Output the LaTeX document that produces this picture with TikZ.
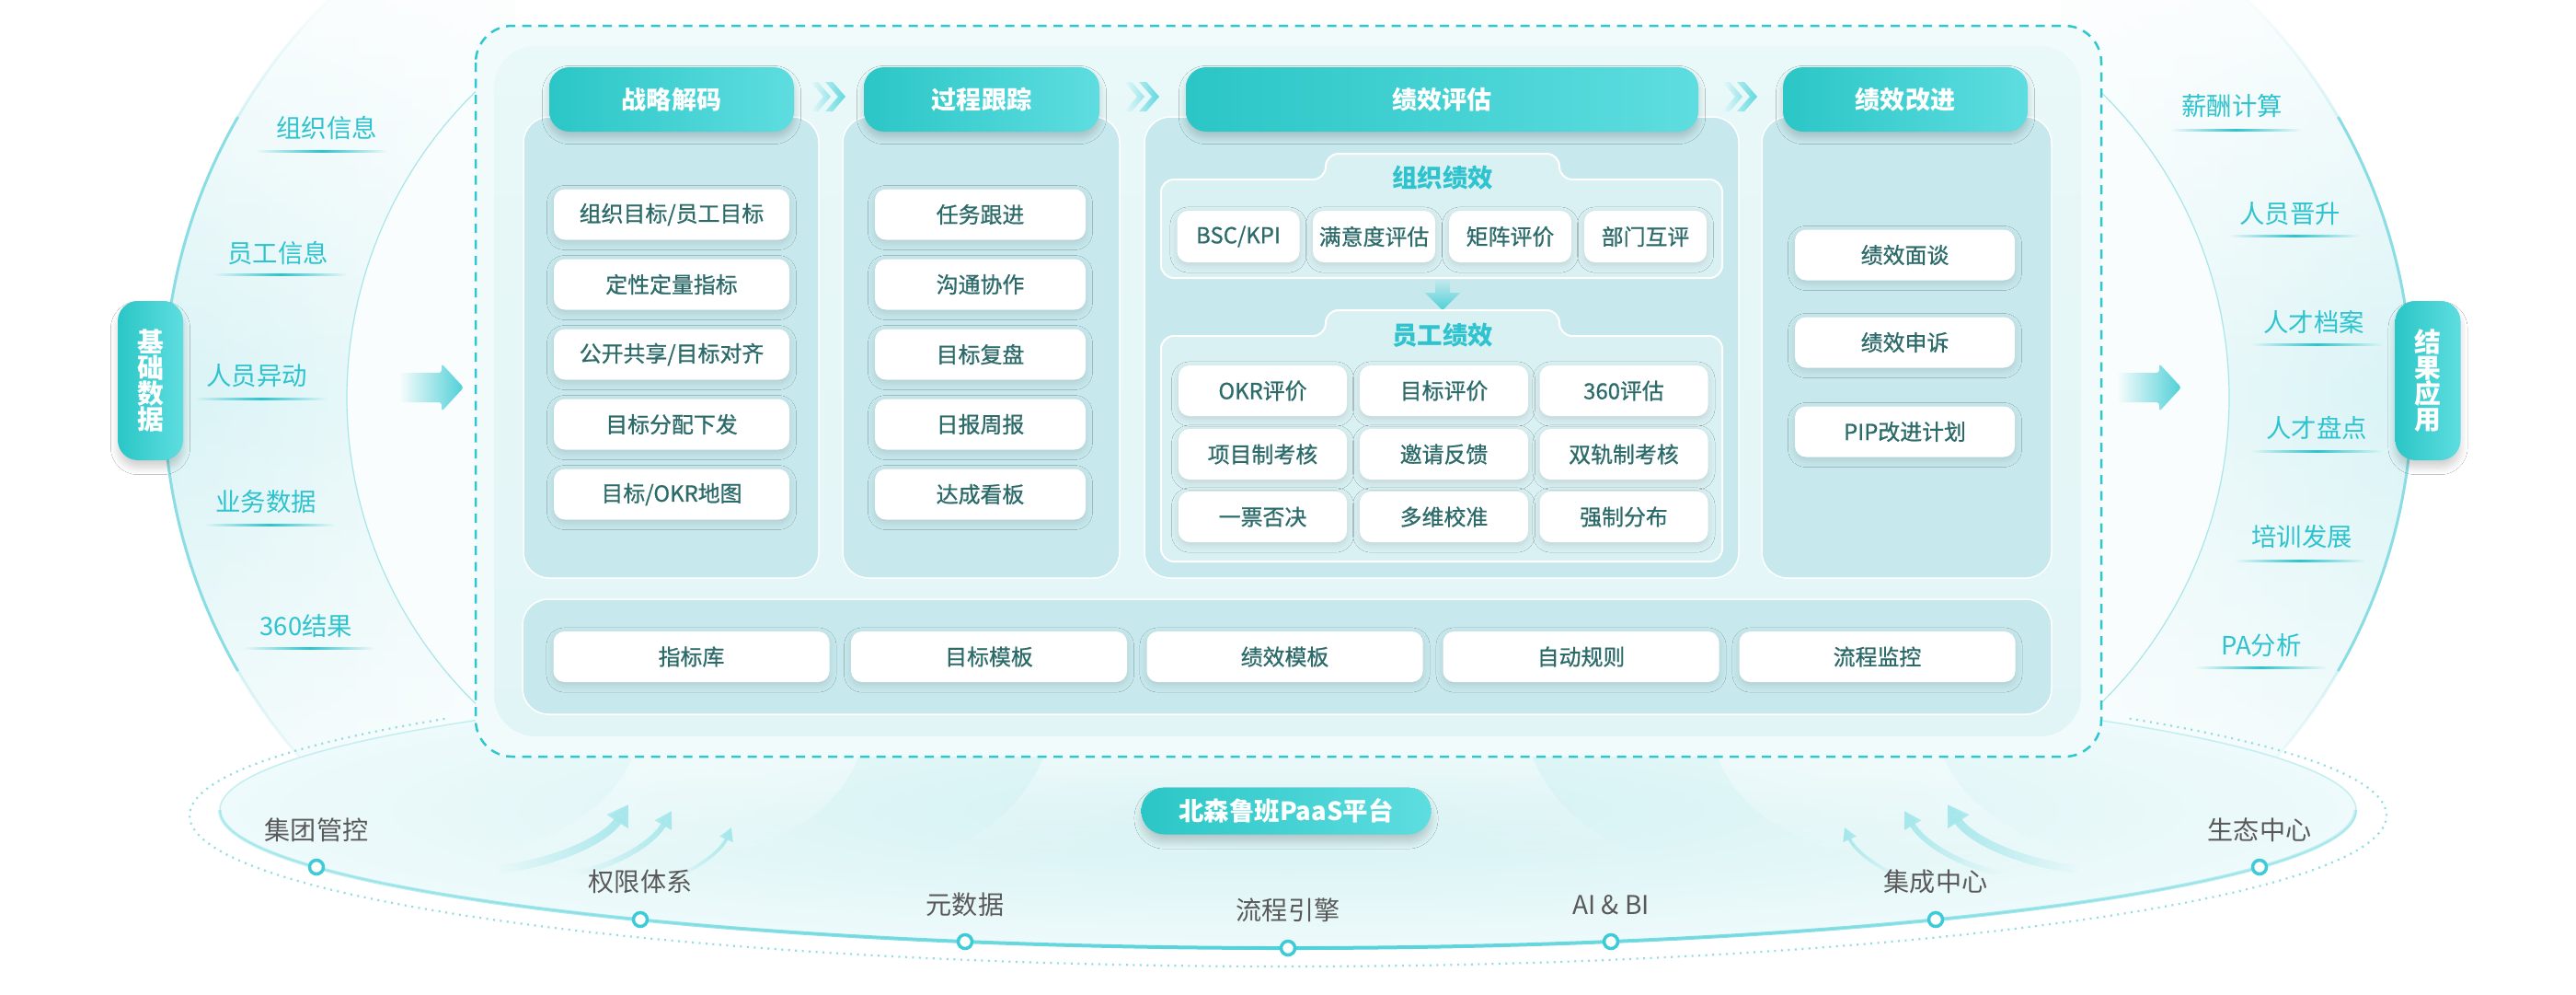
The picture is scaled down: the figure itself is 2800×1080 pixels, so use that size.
\documentclass[tikz,border=0pt]{standalone}
\usepackage{fontspec}
\setmainfont{Noto Sans CJK SC}
\newfontfamily\medfont{Noto Sans CJK SC}[FakeBold=0.8]
\usetikzlibrary{fadings,shadows.blur,arrows.meta}
\definecolor{dashC}{HTML}{2EC6CF}
\definecolor{frameFill}{HTML}{F2FBFC}
\definecolor{innerTop}{HTML}{E9F8F9}
\definecolor{innerBot}{HTML}{E2F5F6}
\definecolor{panelC}{HTML}{C7E9ED}
\definecolor{grpC}{HTML}{DAF1F3}
\definecolor{itemTxt}{HTML}{2D6B6B}
\definecolor{hdrL}{HTML}{2BC6C6}
\definecolor{hdrR}{HTML}{5EDDE0}
\definecolor{labTeal}{HTML}{2EC3CE}
\definecolor{botTxt}{HTML}{595959}
\definecolor{dotTeal}{HTML}{3DCCD6}
\definecolor{crescL}{HTML}{D8F3F5}
\definecolor{crescR}{HTML}{F2FBFC}
\definecolor{innerW}{HTML}{F9FDFD}
\definecolor{arcC}{HTML}{8ADDE3}
\definecolor{arcIn}{HTML}{A8E6EA}
\definecolor{ellIn}{HTML}{D2F1F2}
\definecolor{ellOut}{HTML}{EEFAFB}
\definecolor{ellLine}{HTML}{4FD1D9}
\definecolor{dotLine}{HTML}{8FDDE3}
\definecolor{arrowC}{HTML}{4FD0D8}
\definecolor{chevC}{HTML}{5FD9E0}
\definecolor{decoC}{HTML}{A6E7EB}
\tikzfading[name=fadeLR, left color=transparent!100, right color=transparent!100, middle color=transparent!0]
\tikzfading[name=fadeLRsoft, left color=transparent!75, right color=transparent!75, middle color=transparent!0]
\tikzfading[name=fadeIn, left color=transparent!100, right color=transparent!0]
\tikzfading[name=fadeInR, left color=transparent!0, right color=transparent!100]
\tikzfading[name=fUp, top color=transparent!100, bottom color=transparent!0]
\tikzfading[name=fDown, top color=transparent!0, bottom color=transparent!100]
\tikzfading[name=fadeCres, top color=transparent!85, bottom color=transparent!70, middle color=transparent!0]
\newcommand\fItem{\medfont\fontsize{6.8pt}{8pt}\selectfont}
\newcommand\fHdr{\fontsize{7.7pt}{9pt}\selectfont\bfseries}
\newcommand\fGrp{\fontsize{7.8pt}{9pt}\selectfont\bfseries}
\newcommand\fSide{\fontsize{7.8pt}{9pt}\selectfont}
\newcommand\fBot{\fontsize{8pt}{9pt}\selectfont}
\newcommand\fPill{\fontsize{8.2pt}{8pt}\selectfont\bfseries}
\newcommand\fPaas{\fontsize{7.8pt}{9pt}\selectfont\bfseries}
\newcommand\mychev[2]{%
  \fill[chevC, path fading=fadeIn]
    (#1-20,#2-16) -- (#1-12,#2-16) -- (#1+2,#2) -- (#1-12,#2+16) -- (#1-20,#2+16) -- (#1-6,#2) -- cycle
    (#1-4,#2-16) -- (#1+4,#2-16) -- (#1+18,#2) -- (#1+4,#2+16) -- (#1-4,#2+16) -- (#1+10,#2) -- cycle;}
\tikzset{
  itembox/.style={fill=white, rounded corners=1.2mm, text=itemTxt, font=\fItem, inner sep=0pt,
    minimum height=5.5mm,
    blur shadow={shadow xshift=0pt, shadow yshift=-0.35mm, shadow opacity=12, shadow blur steps=6}},
  hdrbox/.style={rounded corners=2.2mm, left color=hdrL, right color=hdrR, text=white, font=\fHdr,
    inner sep=0pt, minimum height=7mm,
    blur shadow={shadow xshift=0pt, shadow yshift=-0.6mm, shadow opacity=18, shadow blur steps=8}},
  panelbox/.style={fill=panelC, draw=white, line width=0.15mm, rounded corners=2.8mm},
  grpbox/.style={fill=grpC, draw=white, line width=0.2mm, rounded corners=1.4mm},
  grplab/.style={text=labTeal, font=\fGrp, inner sep=0pt},
  pillv/.style={rounded corners=2.2mm, left color=hdrL, right color=hdrR, text=white, font=\fPill,
    align=center, inner sep=0pt, minimum width=7.1mm, minimum height=17.3mm,
    blur shadow={shadow xshift=0pt, shadow yshift=-0.8mm, shadow opacity=18, shadow blur steps=8}},
  sidelab/.style={text=labTeal, font=\fSide, inner sep=0pt},
  botlab/.style={text=botTxt, font=\fBot, inner sep=0pt},
  dotc/.style={circle, draw=dotTeal, line width=0.35mm, fill=white, minimum size=1.5mm, inner sep=0pt},
  uline/.style={fill=labTeal, path fading=fadeLR},
  bigarrow/.style={fill=arrowC, rounded corners=0.3mm},
  decoarrow/.style={draw=decoC, line cap=round},
  beam/.style={fill=white, fill opacity=0.45, path fading=fDown},
}
\begin{document}
\begin{tikzpicture}[x=0.1mm,y=-0.1mm]
\useasboundingbox (0,0) rectangle (2800,1080);
\fill[white] (0,0) rectangle (2800,1080);
\clip (0,0) rectangle (2800,1080);

% ---------- left crescent ----------
\begin{scope}
  \clip (0,0) rectangle (560,850);
  \begin{scope}
    \clip (780,428) circle (602);
    \shade[left color=crescL, right color=crescR, path fading=fadeCres] (170,-10) rectangle (560,860);
  \end{scope}
  \fill[innerW] (842,432) circle (465);
\end{scope}
\draw[arcC, line width=0.3mm] (780,428) ++(150:602) arc[start angle=150, end angle=210, radius=602];
\draw[arcC, line width=0.3mm, path fading=fUp] (780,428) ++(210:602) arc[start angle=210, end angle=226, radius=602];
\draw[arcC, line width=0.3mm, path fading=fDown] (780,428) ++(134:602) arc[start angle=134, end angle=150, radius=602];
\draw[arcIn, line width=0.12mm] (842,432) ++(134:465) arc[start angle=134, end angle=226, radius=465];

% ---------- right crescent ----------
\begin{scope}
  \clip (2240,0) rectangle (2800,850);
  \begin{scope}
    \clip (2020,428) circle (602);
    \shade[left color=crescR, right color=crescL, path fading=fadeCres] (2240,-10) rectangle (2630,860);
  \end{scope}
  \fill[innerW] (1958,432) circle (465);
\end{scope}
\draw[arcC, line width=0.3mm] (2020,428) ++(-30:602) arc[start angle=-30, end angle=30, radius=602];
\draw[arcC, line width=0.3mm, path fading=fUp] (2020,428) ++(-46:602) arc[start angle=-46, end angle=-30, radius=602];
\draw[arcC, line width=0.3mm, path fading=fDown] (2020,428) ++(30:602) arc[start angle=30, end angle=46, radius=602];
\draw[arcIn, line width=0.12mm] (1958,432) ++(-46:465) arc[start angle=-46, end angle=46, radius=465];

% ---------- bottom platform ellipse ----------
\fill[inner color=ellIn, outer color=ellOut] (1400,880) ellipse [x radius=1161, y radius=150];
\draw[ellLine!35, line width=0.15mm] (1400,880) ellipse [x radius=1161, y radius=150];
\draw[ellLine, line width=0.4mm, path fading=fadeLRsoft] (1400,880) ++(0:1161 and 150)
  arc[start angle=0, end angle=180, x radius=1161, y radius=150];
\draw[dotLine, line width=0.22mm, dash pattern=on 0.2mm off 0.55mm] (1400,886) ++(-40:1194 and 164)
  arc[start angle=-40, end angle=220, x radius=1194, y radius=164];

% light beams below the frame
\fill[beam] (688,822) -- (933,822) .. controls (915,870) and (870,905) .. (800,925)
  .. controls (700,945) and (560,950) .. (480,945) .. controls (590,925) and (665,880) .. (688,822) -- cycle;
\fill[beam] (2112,822) -- (1867,822) .. controls (1885,870) and (1930,905) .. (2000,925)
  .. controls (2100,945) and (2240,950) .. (2320,945) .. controls (2210,925) and (2135,880) .. (2112,822) -- cycle;
\fill[beam] (1135,822) .. controls (1110,880) and (1060,920) .. (990,935) -- (1810,935)
  .. controls (1740,920) and (1690,880) .. (1665,822) -- cycle;

% decorative rising arrows
\draw[decoarrow, line width=0.9mm, -{Triangle[width=2.6mm,length=2.2mm]}, path fading=fadeIn]
  (545,944) .. controls (610,936) and (660,910) .. (683,874);
\draw[decoarrow, line width=0.6mm, -{Triangle[width=2mm,length=1.8mm]}, path fading=fadeIn]
  (630,948) .. controls (680,936) and (712,912) .. (730,881);
\draw[decoarrow, line width=0.35mm, -{Triangle[width=1.5mm,length=1.4mm]}, path fading=fadeIn]
  (735,952) .. controls (765,940) and (785,922) .. (795,899);
\draw[decoarrow, line width=0.9mm, -{Triangle[width=2.6mm,length=2.2mm]}, path fading=fadeInR]
  (2255,944) .. controls (2190,936) and (2140,910) .. (2117,874);
\draw[decoarrow, line width=0.6mm, -{Triangle[width=2mm,length=1.8mm]}, path fading=fadeInR]
  (2170,948) .. controls (2120,936) and (2088,912) .. (2070,881);
\draw[decoarrow, line width=0.35mm, -{Triangle[width=1.5mm,length=1.4mm]}, path fading=fadeInR]
  (2065,952) .. controls (2035,940) and (2015,922) .. (2005,899);

% ---------- main frame ----------
\draw[draw=dashC, line width=0.25mm, dash pattern=on 1mm off 0.75mm, fill=frameFill, rounded corners=4mm]
  (517,28) rectangle (2284,822);
\shade[top color=innerTop, bottom color=innerBot, rounded corners=4.5mm] (537,50) rectangle (2262,800);

% column panels
\draw[panelbox] (569,127) rectangle (890,628);
\draw[panelbox] (916,127) rectangle (1217,628);
\draw[panelbox] (1244,127) rectangle (1890,628);
\draw[panelbox] (1915,127) rectangle (2230,628);
\draw[panelbox] (568,651) rectangle (2230,776);

% headers
\node[hdrbox, minimum width=26.6mm] (h1) at (730,108) {战略解码};
\node[hdrbox, minimum width=25.6mm] (h2) at (1067,108) {过程跟踪};
\node[hdrbox, minimum width=55.7mm] (h3) at (1567.5,108) {绩效评估};
\node[hdrbox, minimum width=26.6mm] (h4) at (2071,108) {绩效改进};
\mychev{901}{105}
\mychev{1242}{105}
\mychev{1892}{105}

% column 1
\node[itembox, minimum width=25.6mm] (c1a) at (730,233) {组织目标/员工目标};
\node[itembox, minimum width=25.6mm] (c1b) at (730,309) {定性定量指标};
\node[itembox, minimum width=25.6mm] (c1c) at (730,385) {公开共享/目标对齐};
\node[itembox, minimum width=25.6mm] (c1d) at (730,461) {目标分配下发};
\node[itembox, minimum width=25.6mm] (c1e) at (730,537) {目标/OKR地图};

% column 2
\node[itembox, minimum width=22.9mm] (c2a) at (1065.5,233) {任务跟进};
\node[itembox, minimum width=22.9mm] (c2b) at (1065.5,309) {沟通协作};
\node[itembox, minimum width=22.9mm] (c2c) at (1065.5,385) {目标复盘};
\node[itembox, minimum width=22.9mm] (c2d) at (1065.5,461) {日报周报};
\node[itembox, minimum width=22.9mm] (c2e) at (1065.5,537) {达成看板};

% column 3 : group 1
\draw[grpbox] (1262,302) -- (1262,195) -- (1441,195) -- (1441,167) -- (1695,167) -- (1695,195)
  -- (1872,195) -- (1872,302) -- cycle;
\node[grplab] (g1) at (1568,193) {组织绩效};
\node[itembox, minimum width=13.3mm, minimum height=5.6mm] (o1) at (1346,257) {BSC/KPI};
\node[itembox, minimum width=13.3mm, minimum height=5.6mm] (o2) at (1493.5,257) {满意度评估};
\node[itembox, minimum width=13.3mm, minimum height=5.6mm] (o3) at (1641.5,257) {矩阵评价};
\node[itembox, minimum width=13.3mm, minimum height=5.6mm] (o4) at (1788.5,257) {部门互评};
\fill[arrowC, path fading=fUp] (1560,303) -- (1576,303) -- (1576,318) -- (1587,318) -- (1568,337)
  -- (1549,318) -- (1560,318) -- cycle;

% column 3 : group 2
\draw[grpbox] (1262,610) -- (1262,365) -- (1441,365) -- (1441,337) -- (1695,337) -- (1695,365)
  -- (1872,365) -- (1872,610) -- cycle;
\node[grplab] (g2) at (1568,364) {员工绩效};
\node[itembox, minimum width=18.3mm] (e1) at (1372.5,424.5) {OKR评价};
\node[itembox, minimum width=18.3mm] (e2) at (1569.5,424.5) {目标评价};
\node[itembox, minimum width=18.3mm] (e3) at (1765,424.5) {360评估};
\node[itembox, minimum width=18.3mm] (e4) at (1372.5,493.5) {项目制考核};
\node[itembox, minimum width=18.3mm] (e5) at (1569.5,493.5) {邀请反馈};
\node[itembox, minimum width=18.3mm] (e6) at (1765,493.5) {双轨制考核};
\node[itembox, minimum width=18.3mm] (e7) at (1372.5,561.5) {一票否决};
\node[itembox, minimum width=18.3mm] (e8) at (1569.5,561.5) {多维校准};
\node[itembox, minimum width=18.3mm] (e9) at (1765,561.5) {强制分布};

% column 4
\node[itembox, minimum width=23.9mm] (c4a) at (2070.5,277) {绩效面谈};
\node[itembox, minimum width=23.9mm] (c4b) at (2070.5,372) {绩效申诉};
\node[itembox, minimum width=23.9mm] (c4c) at (2070.5,469) {PIP改进计划};

% bottom row
\node[itembox, minimum width=30mm] (b1) at (751.5,713.5) {指标库};
\node[itembox, minimum width=30mm] (b2) at (1075,713.5) {目标模板};
\node[itembox, minimum width=30mm] (b3) at (1396.5,713.5) {绩效模板};
\node[itembox, minimum width=30mm] (b4) at (1718.5,713.5) {自动规则};
\node[itembox, minimum width=30mm] (b5) at (2040.5,713.5) {流程监控};

% ---------- left side ----------
\node[pillv] (base) at (163.5,413.5) {基\\础\\数\\据};
\node[sidelab] (s1) at (355,139) {组织信息};
\node[sidelab] (s2) at (302,275) {员工信息};
\node[sidelab] (s3) at (279,408) {人员异动};
\node[sidelab] (s4) at (289,545) {业务数据};
\node[sidelab] (s5) at (333,680) {360结果};
\fill[uline] (279,162.5) rectangle (421,165.5);
\fill[uline] (232,296.5) rectangle (377,299.5);
\fill[uline] (212,431.5) rectangle (355,434.5);
\fill[uline] (222,568.5) rectangle (364,571.5);
\fill[uline] (265,702.5) rectangle (407,705.5);
\fill[bigarrow, path fading=fadeIn] (434,405) -- (480,405) -- (480,395) -- (504,421) -- (480,447)
  -- (480,437) -- (434,437) -- cycle;

% ---------- right side ----------
\node[pillv] (res) at (2639,413.5) {结\\果\\应\\用};
\node[sidelab] (r1) at (2426,115) {薪酬计算};
\node[sidelab] (r2) at (2489,232) {人员晋升};
\node[sidelab] (r3) at (2515,350) {人才档案};
\node[sidelab] (r4) at (2518,465) {人才盘点};
\node[sidelab] (r5) at (2502,583) {培训发展};
\node[sidelab] (r6) at (2458,701) {PA分析};
\fill[uline] (2359,139.5) rectangle (2501,142.5);
\fill[uline] (2423,254.5) rectangle (2565,257.5);
\fill[uline] (2447,372.5) rectangle (2589,375.5);
\fill[uline] (2447,488.5) rectangle (2589,491.5);
\fill[uline] (2429,607.5) rectangle (2571,610.5);
\fill[uline] (2386,723.5) rectangle (2529,726.5);
\fill[bigarrow, path fading=fadeIn] (2301,405) -- (2347,405) -- (2347,395) -- (2371,421) -- (2347,447)
  -- (2347,437) -- (2301,437) -- cycle;

% ---------- platform ----------
\node[rounded corners=2.5mm, left color=hdrL, right color=hdrR, text=white, font=\fPaas, inner sep=0pt,
  minimum width=31.5mm, minimum height=5.1mm,
  blur shadow={shadow xshift=0pt, shadow yshift=-0.8mm, shadow opacity=18, shadow blur steps=8}]
  (paas) at (1398,881) {北森鲁班PaaS平台};
\node[dotc] (d1) at (344,942) {};
\node[dotc] (d2) at (696,999) {};
\node[dotc] (d3) at (1049,1023) {};
\node[dotc] (d4) at (1400,1030) {};
\node[dotc] (d5) at (1751,1023) {};
\node[dotc] (d6) at (2104,999) {};
\node[dotc] (d7) at (2456,942) {};
\node[botlab] (t1) at (344,902) {集团管控};
\node[botlab] (t2) at (696,958) {权限体系};
\node[botlab] (t3) at (1049,983) {元数据};
\node[botlab] (t4) at (1400,989) {流程引擎};
\node[botlab] (t5) at (1751,983) {AI \& BI};
\node[botlab] (t6) at (2104,958) {集成中心};
\node[botlab] (t7) at (2456,902) {生态中心};
\end{tikzpicture}
\end{document}
